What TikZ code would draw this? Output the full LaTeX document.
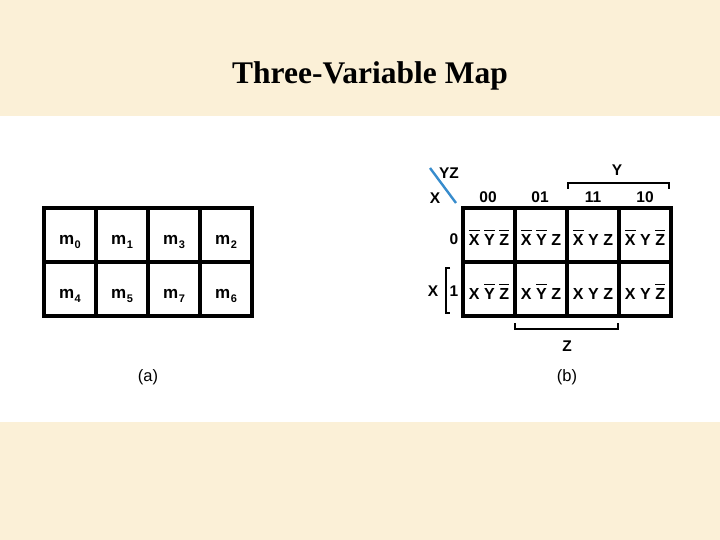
\documentclass[tikz,border=0pt]{standalone}
\usepackage{fontspec}
\setmainfont{Liberation Sans}
\newfontfamily\titlefont{Liberation Serif}
\definecolor{parch}{RGB}{251,240,215}
\definecolor{diagblue}{RGB}{55,140,205}
\newcommand\ob[1]{\setbox0\hbox{#1}\rlap{\raisebox{\dimexpr\ht0+2.5pt\relax}{\rule{\wd0}{1.4pt}}}\box0}
\newcommand\nb[1]{#1}
\newcommand\mm[1]{m\hspace{0.5pt}\raisebox{-3.5pt}{\fontsize{11}{11}\selectfont #1}}
\begin{document}
\begin{tikzpicture}[x=1pt,y=-1pt,
  cell/.style={draw=black, line width=3.3pt, minimum width=52pt, minimum height=54pt,
    inner sep=0pt, font=\bfseries\fontsize{16}{16}\selectfont, text height=20pt, text depth=0pt},
  mcell/.style={cell, font=\bfseries\fontsize{17}{17}\selectfont, text height=19pt, text depth=0pt},
  lbl/.style={font=\bfseries\fontsize{15.5}{15.5}\selectfont, inner sep=0pt},
  brk/.style={line width=2.7pt}]
\useasboundingbox (0,0) rectangle (720,540);
\fill[parch] (0,0) rectangle (720,540);
\fill[white] (0,116) rectangle (720,422);
\node[font=\titlefont\bfseries\fontsize{31.5}{31.5}\selectfont, inner sep=0pt] (title) at (370,76) {Three-Variable Map};
% map (a)
\node[mcell] (a00) at (70,235) {\mm{0}};
\node[mcell] (a01) at (122,235) {\mm{1}};
\node[mcell] (a03) at (174,235) {\mm{3}};
\node[mcell] (a02) at (226,235) {\mm{2}};
\node[mcell] (a10) at (70,289) {\mm{4}};
\node[mcell] (a11) at (122,289) {\mm{5}};
\node[mcell] (a13) at (174,289) {\mm{7}};
\node[mcell] (a12) at (226,289) {\mm{6}};
\node[lbl, font=\fontsize{16.5}{16.5}\selectfont] (capa) at (148,377) {(a)};
% map (b)
\node[cell] (b00) at (489,235) {\ob{X}\hspace{4.5pt}\ob{Y}\hspace{4.5pt}\ob{Z}};
\node[cell] (b01) at (541,235) {\ob{X}\hspace{4.5pt}\ob{Y}\hspace{4.5pt}\nb{Z}};
\node[cell] (b03) at (593,235) {\ob{X}\hspace{4.5pt}\nb{Y}\hspace{4.5pt}\nb{Z}};
\node[cell] (b02) at (645,235) {\ob{X}\hspace{4.5pt}\nb{Y}\hspace{4.5pt}\ob{Z}};
\node[cell] (b10) at (489,289) {\nb{X}\hspace{4.5pt}\ob{Y}\hspace{4.5pt}\ob{Z}};
\node[cell] (b11) at (541,289) {\nb{X}\hspace{4.5pt}\ob{Y}\hspace{4.5pt}\nb{Z}};
\node[cell] (b13) at (593,289) {\nb{X}\hspace{4.5pt}\nb{Y}\hspace{4.5pt}\nb{Z}};
\node[cell] (b12) at (645,289) {\nb{X}\hspace{4.5pt}\nb{Y}\hspace{4.5pt}\ob{Z}};
% column labels
\node[lbl] (c00) at (488,197) {00};
\node[lbl] (c01) at (540,197) {01};
\node[lbl] (c11) at (593,197) {11};
\node[lbl] (c10) at (645,197) {10};
% row labels
\node[lbl] (r0) at (454,239) {0};
\node[lbl] (r1) at (454,291) {1};
\node[lbl] (rx) at (433,291) {X};
% corner
\coordinate (d1) at (430,168);
\coordinate (d2) at (456,203);
\draw[diagblue, line width=2.4pt] (d1) -- (d2);
\node[lbl] (yz) at (449,173) {YZ};
\node[lbl] (cx) at (435,198) {X};
% Y bracket
\coordinate (y1) at (568,189);
\coordinate (y2) at (568,183);
\coordinate (y3) at (669,183);
\coordinate (y4) at (669,189);
\draw[brk] (y1) -- (y2) -- (y3) -- (y4);
\node[lbl] (ly) at (617,170) {Y};
% X bracket
\coordinate (x1) at (450,268);
\coordinate (x2) at (446,268);
\coordinate (x3) at (446,313);
\coordinate (x4) at (450,313);
\draw[brk] (x1) -- (x2) -- (x3) -- (x4);
% Z bracket
\coordinate (z1) at (515,323);
\coordinate (z2) at (515,329);
\coordinate (z3) at (618,329);
\coordinate (z4) at (618,323);
\draw[brk] (z1) -- (z2) -- (z3) -- (z4);
\node[lbl] (lz) at (567,346) {Z};
\node[lbl, font=\fontsize{16.5}{16.5}\selectfont] (capb) at (567,377) {(b)};
\end{tikzpicture}
\end{document}
